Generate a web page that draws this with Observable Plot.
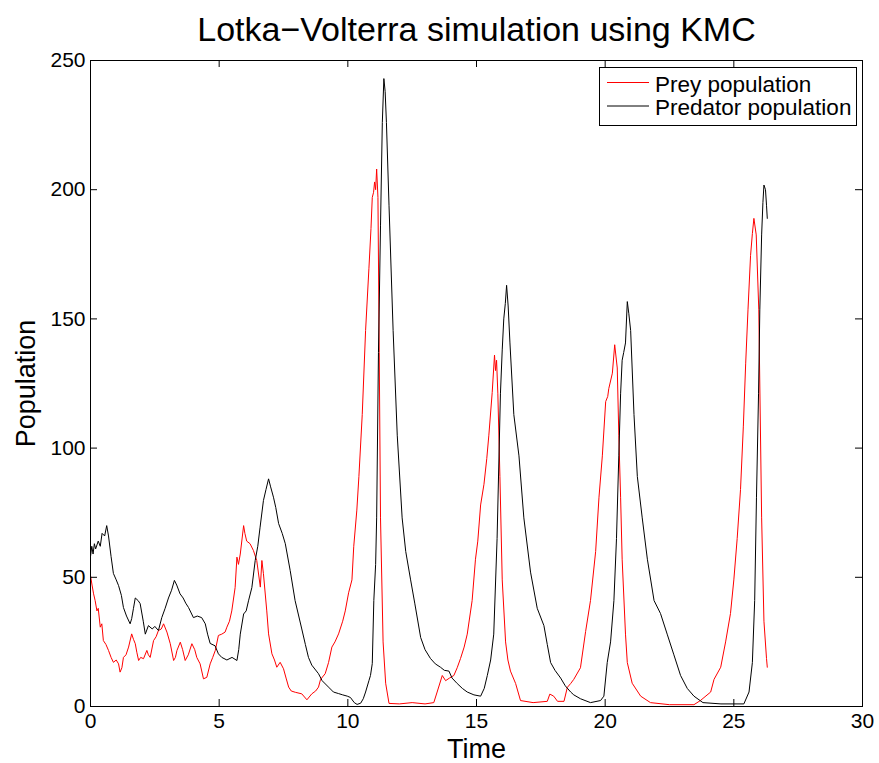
<!DOCTYPE html>
<html><head><meta charset="utf-8">
<script src="https://cdn.jsdelivr.net/npm/d3@7"></script>
<script src="https://cdn.jsdelivr.net/npm/@observablehq/plot@0.6"></script>
<style>
body{margin:0;background:#fff;}
#wrap{position:relative;width:879px;height:763px;font-family:"Liberation Sans",Arial,Helvetica,sans-serif;}
#legend{position:absolute;left:599px;top:67px;}
</style></head><body><div id="wrap"></div>
<script>
const title = "Lotka−Volterra simulation using KMC";
const xLabel = "Time";
const yLabel = "Population";
const seriesNames = ["Prey population", "Predator population"];
const seriesColors = ["#ff0000", "#000000"];
const xTicks = [0, 5, 10, 15, 20, 25, 30];
const yTicks = [0, 50, 100, 150, 200, 250];

const preyTime = [0,0.06,0.12,0.18,0.25,0.3,0.38,0.44,0.5,0.6,0.7,0.8,0.89,1.0,1.09,1.15,1.22,1.28,1.38,1.48,1.6,1.67,1.74,1.8,1.87,1.95,2.06,2.19,2.25,2.32,2.45,2.55,2.64,2.75,2.84,2.97,3.1,3.23,3.3,3.36,3.49,3.58,3.68,3.8,3.94,4.05,4.13,4.26,4.39,4.52,4.65,4.75,4.85,4.97,5.1,5.23,5.3,5.4,5.49,5.62,5.69,5.75,5.82,5.95,6.0,6.07,6.2,6.33,6.46,6.6,6.66,6.72,6.85,6.92,7.05,7.15,7.24,7.37,7.5,7.6,7.7,7.8,7.96,8.21,8.41,8.6,8.75,8.86,8.94,9.12,9.25,9.38,9.5,9.64,9.8,9.9,10.03,10.16,10.23,10.35,10.43,10.56,10.69,10.82,10.9,10.95,11.0,11.04,11.08,11.12,11.17,11.22,11.27,11.37,11.47,11.6,12.0,12.5,13.0,13.34,13.47,13.67,13.8,13.95,14.12,14.25,14.38,14.52,14.64,14.83,14.96,15.05,15.16,15.29,15.4,15.48,15.61,15.7,15.74,15.78,15.83,15.91,16.0,16.13,16.22,16.32,16.52,16.71,17.2,17.75,17.85,18.0,18.15,18.4,18.53,18.66,18.78,19.04,19.24,19.43,19.63,19.76,19.89,20.02,20.1,20.14,20.28,20.37,20.47,20.53,20.6,20.66,20.79,20.86,21.05,21.38,21.76,22.5,23.45,23.7,24.1,24.23,24.49,24.68,24.87,25.0,25.13,25.26,25.37,25.46,25.55,25.65,25.72,25.78,25.87,25.97,26.08,26.17,26.27,26.3];
const preyValues = [50.7,47,43.6,41,37,38,30.7,32,25.5,24,21.7,19,17.1,18,16.5,13.3,15,19,20,23,28.1,26,24.3,21,17.8,19,18.5,21.7,20,19,25.5,27,29.4,30,32,28.8,24.3,17.8,19,21.7,24.9,22,17.8,20,24.3,22,19,16.5,10.7,11.3,16.5,19,21.7,27.5,28,28.8,30.7,33,37,46,57.8,55,59,70,67,64,63,60.4,56.5,46.2,56.5,51.4,37,28.1,20.4,18,15.2,17.1,14.6,11,7.5,6,5.5,4.9,2.6,4.9,6,7.5,10.5,12.7,17,23,25,28.1,33,37,44,49,62,76,89,113,145.5,169.6,185,197,199,203,200,208,197,137,73,25,9,1.2,1,1.5,1,1.5,5.6,12,10,11,12,15,18.6,23,28,41,57,64,78,86,96,105,121.5,136,130,134,121,89,49,25,18,13.7,8.9,2.3,1.5,2,4.8,4,2,2,7.4,8.9,10.5,15,29,41,60,81,97,118,120,123,129,140,131,105,81,57,28,17,9,4,1.5,0.7,0.7,2.3,5.6,10.5,15.2,25,36,49,65,84,108.5,132.6,153.5,174.5,183,188.9,182.5,153.5,73,33,18.6,15.2];

const predatorTime = [0,0.05,0.1,0.15,0.2,0.3,0.38,0.45,0.55,0.63,0.7,0.8,0.89,1.0,1.09,1.2,1.28,1.4,1.54,1.6,1.67,1.74,1.85,1.93,2.05,2.13,2.25,2.4,2.5,2.64,2.77,2.9,3.03,3.15,3.26,3.35,3.48,3.6,3.7,3.81,4.0,4.15,4.32,4.46,4.55,4.65,4.84,4.97,5.1,5.3,5.5,5.69,5.76,5.82,5.95,6.05,6.14,6.27,6.4,6.5,6.59,6.72,6.82,6.92,7.0,7.11,7.2,7.31,7.45,7.57,7.76,7.95,8.21,8.35,8.47,8.6,8.86,9.0,9.25,9.44,9.64,9.8,9.98,10.1,10.25,10.36,10.5,10.6,10.69,10.82,10.88,10.95,11.01,11.08,11.12,11.19,11.27,11.34,11.4,11.45,11.5,11.6,11.76,11.92,12.11,12.25,12.44,12.6,12.83,13.0,13.21,13.4,13.6,13.75,13.93,14.05,14.25,14.45,14.64,14.9,15.16,15.3,15.42,15.55,15.67,15.8,15.93,16.0,16.06,16.12,16.17,16.23,16.3,16.45,16.65,16.84,17.1,17.36,17.62,17.75,17.88,18.05,18.27,18.45,18.66,18.78,19.04,19.43,19.82,19.95,20.08,20.21,20.34,20.44,20.53,20.6,20.66,20.72,20.79,20.86,20.92,20.99,21.12,21.25,21.44,21.64,21.9,22.15,22.41,22.67,22.93,23.19,23.45,23.8,24.5,25.39,25.59,25.72,25.81,25.88,25.96,26.01,26.08,26.13,26.17,26.23,26.27,26.3];
const predatorValues = [58,62,59,63,61,64,62,67,66,70,66,58,51.5,49,46.8,43,38.3,35,32,34,38,42,41,39.8,33,28,31.3,30,31,29.4,34.4,38,42,45,48.8,47,43.6,42,40,38.3,34.4,35,34.4,32,28,24.4,23.5,20.4,19,18,19,17.8,22,28,35.8,37,40.9,46,56.5,62,69.4,79.7,84,88.1,85,81,77,70.8,67,63,52.6,41,30,24,19,16,12.7,10,7.5,5.6,5,4.5,4,3.5,1.5,0.8,1.3,3,5.6,10,12,16.6,41,55,73,137,186,226,243,238,226,194,145.5,105,73,60,49,40,26.7,22,18.6,16.5,15.2,14,13.7,11,8.9,7,5.6,4.5,4,7,12,18,28,65,121,138,150,156,163,155,140.7,113,97,73,52,38,31.3,24,17,14,11,8,5.6,4.5,3,1.5,2.3,4,17,25,41,65,97,121,134,137,140.7,156.7,152,145.5,113,89,73,57,41,36,28,20,12,7,4,1.5,1,1,5.6,17,41,81,121,153.5,182.5,195,201.8,200,194,188.9];

const prey = preyTime.map((t, i) => ({t, v: preyValues[i]}));
const predator = predatorTime.map((t, i) => ({t, v: predatorValues[i]}));

const W = 879, H = 763;
const mL = 90, mR = 17, mT = 60, mB = 57;
const frameW = W - mL - mR, frameH = H - mT - mB;
const tickLen = 7;
const font = '"Liberation Sans", Arial, Helvetica, sans-serif';

const chart = Plot.plot({
  width: W, height: H,
  marginLeft: mL, marginRight: mR, marginTop: mT, marginBottom: mB,
  style: {fontFamily: font, background: "#fff", color: "#000"},
  x: {domain: [0, 30]},
  y: {domain: [0, 250]},
  marks: [
    Plot.line(prey, {x: "t", y: "v", stroke: seriesColors[0], strokeWidth: 1}),
    Plot.line(predator, {x: "t", y: "v", stroke: seriesColors[1], strokeWidth: 1}),
    Plot.frame({stroke: "#000", strokeWidth: 1}),
    Plot.ruleX(xTicks, {x: d => d, insetTop: frameH - tickLen, stroke: "#000"}),
    Plot.ruleX(xTicks, {x: d => d, insetBottom: frameH - tickLen, stroke: "#000"}),
    Plot.ruleY(yTicks, {y: d => d, insetRight: frameW - tickLen, stroke: "#000"}),
    Plot.ruleY(yTicks, {y: d => d, insetLeft: frameW - tickLen, stroke: "#000"}),
    Plot.axisX(xTicks, {tickSize: 0, tickPadding: 7, fontSize: 21, label: null}),
    Plot.axisY(yTicks, {tickSize: 0, tickPadding: 5, fontSize: 21, label: null}),
    Plot.text([xLabel], {frameAnchor: "bottom", textAnchor: "middle", lineAnchor: "bottom", dy: 51, fontSize: 27, fill: "#000"}),
    Plot.text([yLabel], {frameAnchor: "left", textAnchor: "middle", lineAnchor: "bottom", rotate: -90, dx: -56, fontSize: 27, fill: "#000"}),
    Plot.text([title], {frameAnchor: "top", textAnchor: "middle", lineAnchor: "bottom", dy: -20, fontSize: 34, fill: "#000"})
  ]
});
const wrap = document.getElementById("wrap");
wrap.appendChild(chart);

// legend
const lg = d3.create("svg").attr("id", "legend").attr("width", 260).attr("height", 61)
  .style("font-family", font);
lg.append("rect").attr("x", 0.5).attr("y", 0.5).attr("width", 257).attr("height", 58)
  .attr("fill", "#fff").attr("stroke", "#000");
seriesNames.forEach((name, i) => {
  const cy = 15.5 + i * 23.5;
  lg.append("line").attr("x1", 8).attr("x2", 50).attr("y1", cy).attr("y2", cy)
    .attr("stroke", seriesColors[i]).attr("stroke-width", 1);
  lg.append("text").attr("x", 56).attr("y", cy + 9).attr("font-size", 22.5).attr("fill", "#000").text(name);
});
wrap.appendChild(lg.node());
</script>
</body></html>
